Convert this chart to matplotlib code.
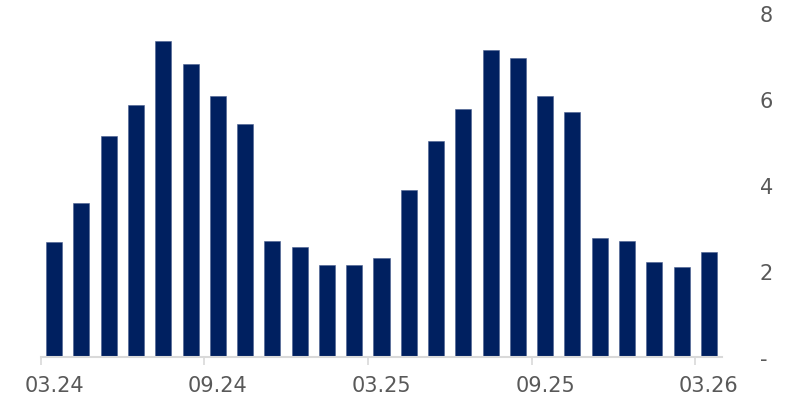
import numpy as np
import matplotlib.pyplot as plt
from matplotlib.ticker import FuncFormatter

months = ["03.24", "04.24", "05.24", "06.24", "07.24", "08.24", "09.24", "10.24",
          "11.24", "12.24", "01.25", "02.25", "03.25", "04.25", "05.25", "06.25",
          "07.25", "08.25", "09.25", "10.25", "11.25", "12.25", "01.26", "02.26", "03.26"]
values = [2.68, 3.59, 5.13, 5.85, 7.34, 6.81, 6.06, 5.43, 2.70, 2.56, 2.14, 2.14,
          2.31, 3.89, 5.03, 5.76, 7.13, 6.95, 6.08, 5.69, 2.77, 2.70, 2.21, 2.10, 2.45]
y_ticks = [0, 2, 4, 6, 8]

BAR_COLOR = "#002060"
TEXT_COLOR = "#595959"
AXIS_COLOR = "#d9d9d9"

plt.rcParams['font.family'] = ['DejaVu Sans']

fig = plt.figure(figsize=(7.87, 4.02), dpi=100)
ax = fig.add_axes([0.0515, 0.1095, 0.8665, 0.8555])

x = np.arange(len(values))
ax.bar(x, values, width=0.59, color=BAR_COLOR, edgecolor="#4a5f8f", linewidth=0.4)

ax.set_xlim(-0.5, len(values) - 0.5)
ax.set_ylim(0, 8)

# ticks at category boundaries, labels centred on the bars
label_idx = list(range(0, len(values), 6))
ax.set_xticks([i - 0.5 for i in label_idx])
ax.set_xticklabels([])
ax.set_xticks(label_idx, minor=True)
ax.set_xticklabels([months[i] for i in label_idx], minor=True)
ax.tick_params(axis="x", which="major", length=6, width=1.2, color=AXIS_COLOR, direction="out")
ax.tick_params(axis="x", which="minor", length=0, pad=13, labelsize=15, labelcolor=TEXT_COLOR)

ax.yaxis.tick_right()
ax.set_yticks(y_ticks)
ax.yaxis.set_major_formatter(FuncFormatter(lambda v, p: "-" if v == 0 else "%d" % v))
ax.tick_params(axis="y", length=0, pad=27, labelsize=15, labelcolor=TEXT_COLOR)

for s in ["top", "left", "right"]:
    ax.spines[s].set_visible(False)
ax.spines["bottom"].set_color(AXIS_COLOR)
ax.spines["bottom"].set_linewidth(1.5)

fig.savefig("out.png", dpi=100)
